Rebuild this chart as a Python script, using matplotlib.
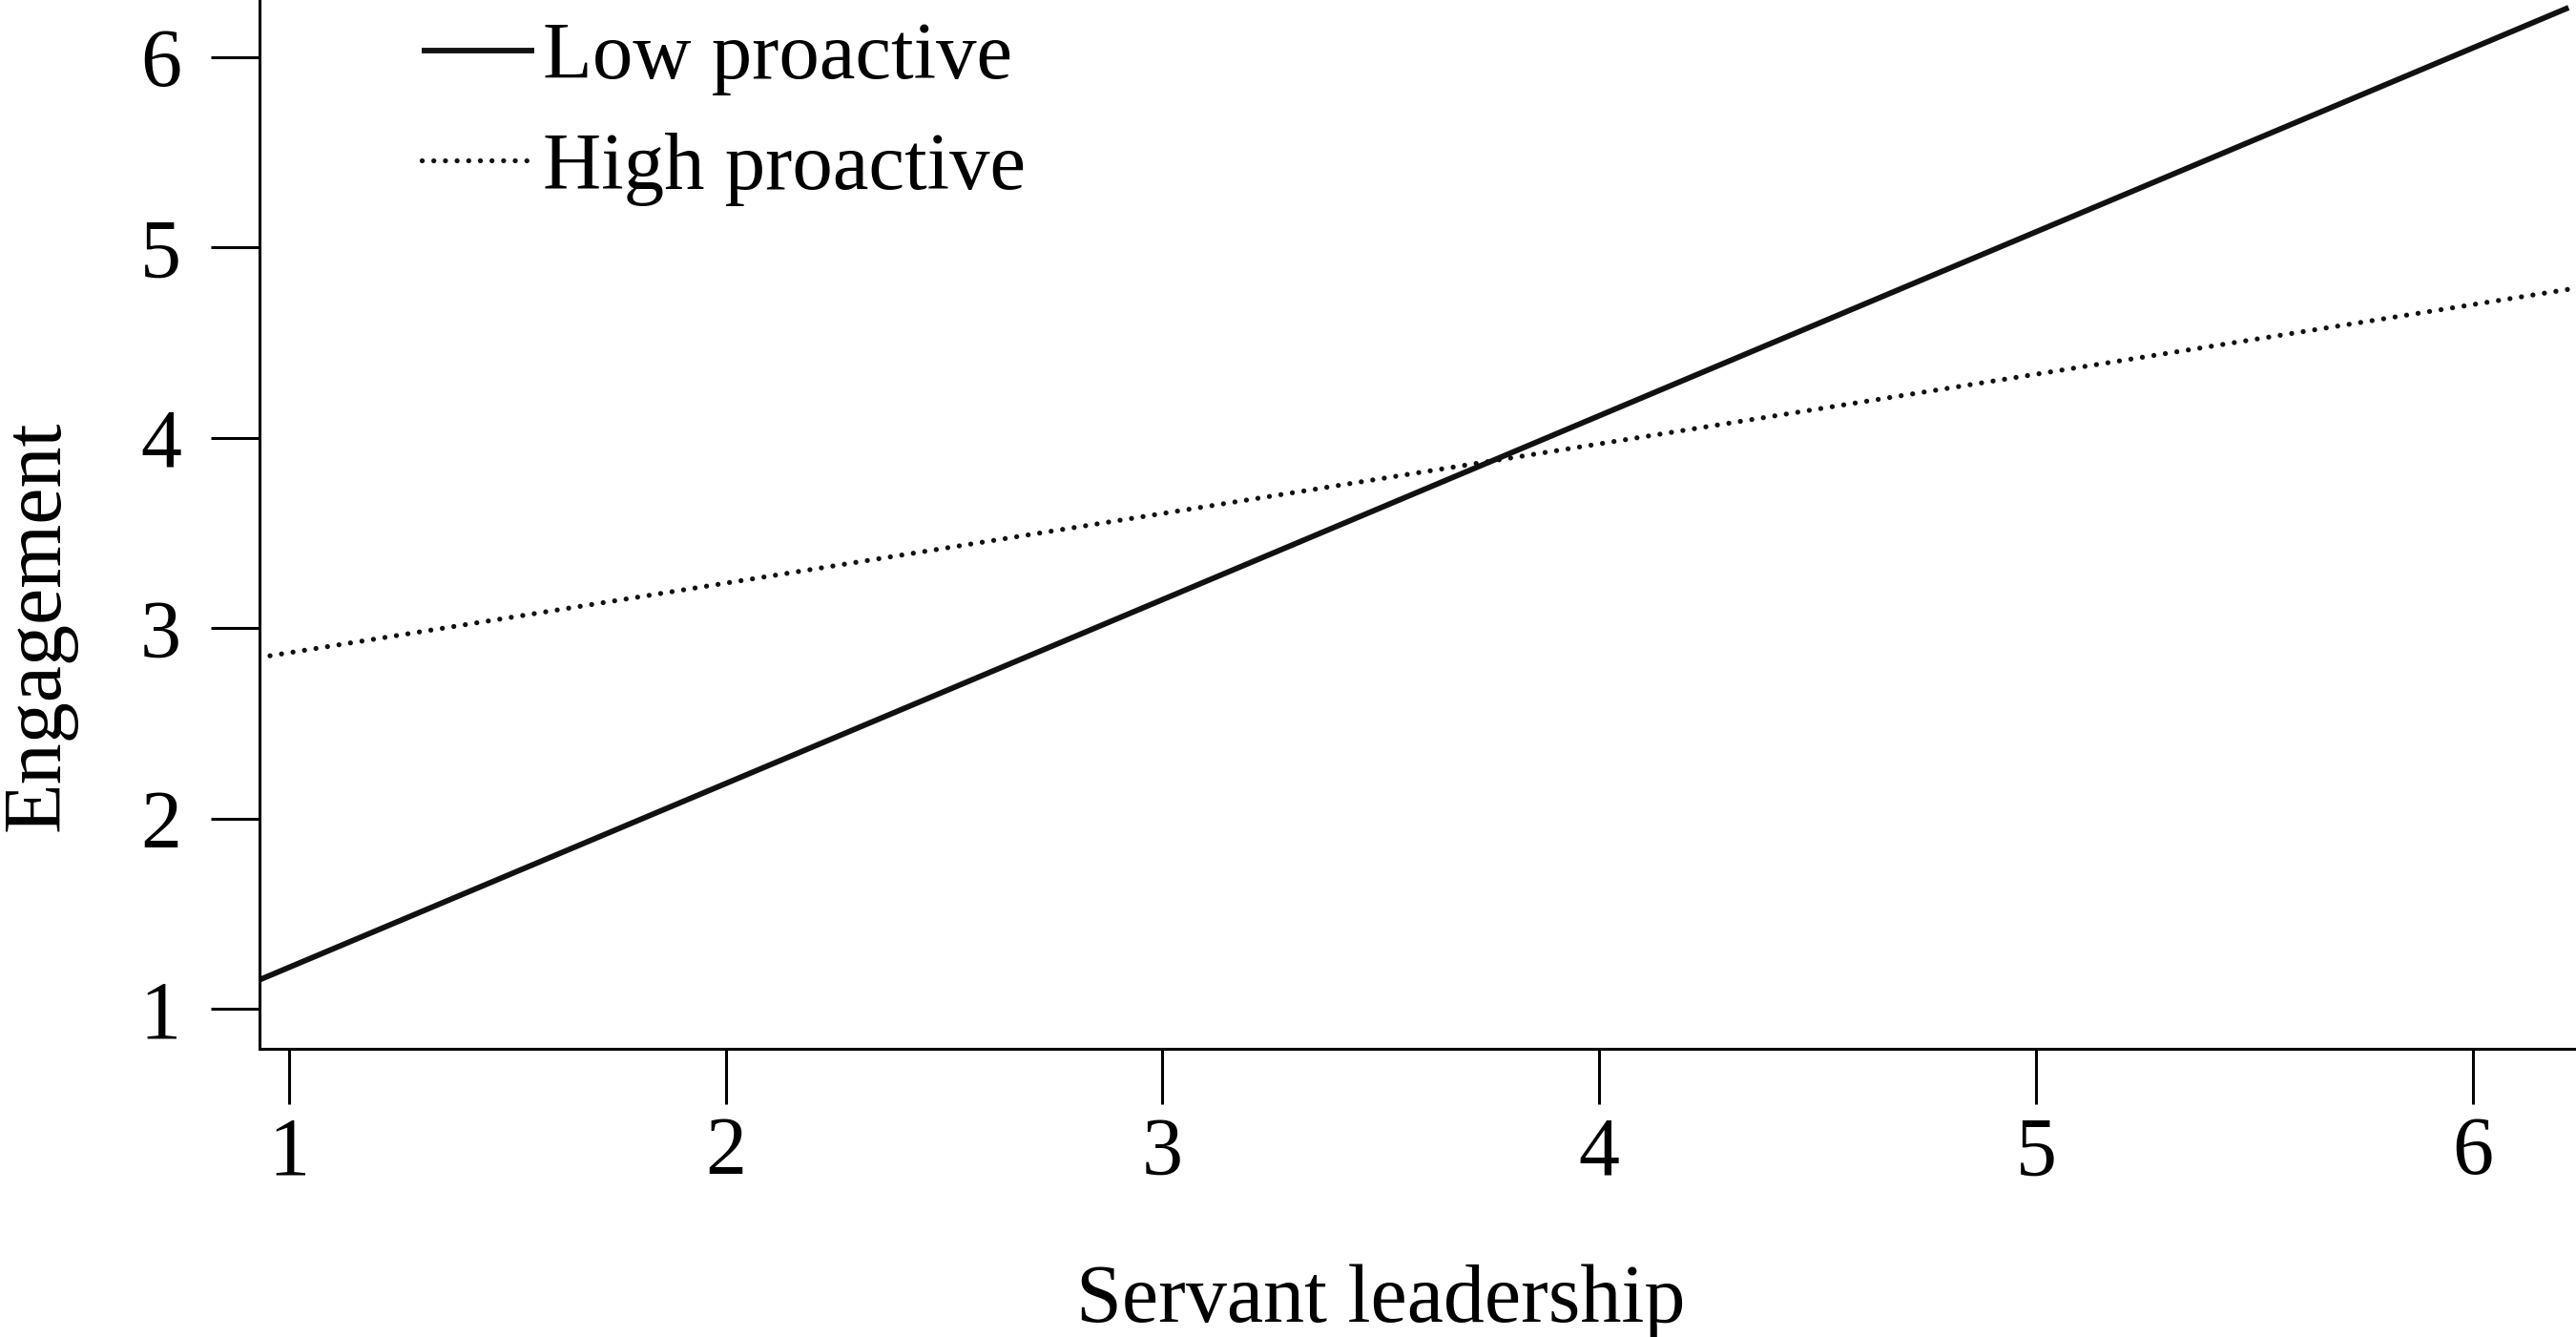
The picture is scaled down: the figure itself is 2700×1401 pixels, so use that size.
import matplotlib.pyplot as plt

# Simple slopes: engagement vs servant leadership
x_ends = [0.93, 6.22]
low_proactive = [1.15, 6.26]
high_proactive = [2.845, 4.78]

x_ticks = [1, 2, 3, 4, 5, 6]
y_ticks = [1, 2, 3, 4, 5, 6]

plt.rcParams['font.family'] = ['Liberation Serif', 'DejaVu Serif']

fig = plt.figure(figsize=(27, 14.01), dpi=100)
ax = fig.add_axes([0.1007, 0.2156, 0.8993, 0.7844])

ax.plot(x_ends, low_proactive, color='#111111', lw=4.2, solid_capstyle='butt', label='Low proactive')
ax.plot(x_ends, high_proactive, color='#111111', lw=3.8, linestyle=(0, (0.01, 2.3)),
        dash_capstyle='round', label='High proactive')

ax.set_xlim(0.932, 6.237)
ax.set_ylim(0.79, 6.30)
ax.set_xticks(x_ticks)
ax.set_yticks(y_ticks)

for side in ['top', 'right']:
    ax.spines[side].set_visible(False)
for side in ['left', 'bottom']:
    ax.spines[side].set_linewidth(2.2)

ax.tick_params(axis='both', direction='out', width=2.2, labelsize=62)
ax.tick_params(axis='y', length=37, pad=22)
ax.tick_params(axis='x', length=42, pad=9)

ax.set_xlabel('Servant leadership', fontsize=62)
ax.xaxis.set_label_coords(0.484, -0.205)
ax.set_ylabel('Engagement', fontsize=62)
ax.yaxis.set_label_coords(-0.0790, 0.403)

ax.legend(loc='upper left', bbox_to_anchor=(0.056, 1.01), frameon=False, fontsize=61,
          handlelength=1.4, handletextpad=0.1, labelspacing=0.45, borderaxespad=0)

fig.savefig('out.png', dpi=100)
